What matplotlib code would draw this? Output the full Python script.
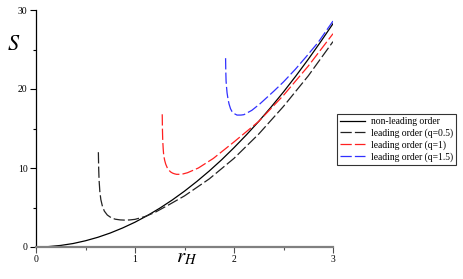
import matplotlib
matplotlib.use("Agg")
import matplotlib.pyplot as plt
from matplotlib.ticker import MultipleLocator

plt.rcParams['font.family'] = ['Liberation Serif', 'DejaVu Serif']
plt.rcParams['mathtext.fontset'] = 'stix'

# non-leading order
r_nl = [0, 0.125, 0.25, 0.375, 0.5, 0.625, 0.75, 0.875, 1.0, 1.125, 1.25, 1.375, 1.5,
        1.625, 1.75, 1.875, 2.0, 2.125, 2.25, 2.375, 2.5, 2.625, 2.75, 2.875, 3.0]
S_nl = [0, 0.05, 0.2, 0.44, 0.79, 1.23, 1.77, 2.41, 3.14, 3.98, 4.91, 5.94, 7.07,
        8.3, 9.62, 11.04, 12.57, 14.19, 15.9, 17.72, 19.63, 21.65, 23.76, 25.97, 28.27]

# leading order q=0.5
r_q05 = [0.63, 0.633, 0.637, 0.645, 0.655, 0.67, 0.69, 0.72, 0.76, 0.8, 0.85, 0.9, 0.95,
         1.0, 1.1, 1.2, 1.35, 1.5, 1.75, 2.0, 2.25, 2.5, 2.75, 3.0]
S_q05 = [12.0, 10.0, 8.5, 7.0, 6.0, 5.2, 4.55, 4.05, 3.7, 3.52, 3.43, 3.4, 3.43,
         3.5, 3.85, 4.37, 5.4, 6.47, 8.62, 11.22, 14.3, 17.8, 21.66, 26.0]

# leading order q=1
r_q1 = [1.275, 1.277, 1.28, 1.285, 1.29, 1.30, 1.31, 1.325, 1.34, 1.36, 1.38, 1.40, 1.42,
        1.47, 1.53, 1.64, 1.79, 2.0, 2.25, 2.5, 2.75, 3.0]
S_q1 = [16.8, 15.0, 13.5, 12.4, 11.6, 10.95, 10.5, 10.05, 9.75, 9.5, 9.35, 9.26, 9.2,
        9.2, 9.4, 10.0, 11.2, 13.3, 15.9, 19.2, 22.9, 27.0]

# leading order q=1.5
r_q15 = [1.915, 1.917, 1.92, 1.925, 1.93, 1.94, 1.95, 1.965, 1.98, 2.0, 2.03, 2.07, 2.1,
         2.18, 2.26, 2.4, 2.5, 2.62, 2.73, 2.85, 3.0]
S_q15 = [23.9, 22.3, 21.0, 20.2, 19.5, 18.7, 18.1, 17.5, 17.15, 16.9, 16.7, 16.7, 16.75,
         17.3, 18.1, 19.7, 20.9, 22.5, 24.1, 25.9, 28.6]

fig = plt.figure(figsize=(4.63, 2.79), dpi=100)
ax = fig.add_axes([36/463, 1-247/279, (333-36)/463, (247-10)/279])

dash = (0, (9, 2.5))
ax.plot(r_nl, S_nl, color='black', lw=0.9, label='non-leading order')
ax.plot(r_q05, S_q05, color='#222222', lw=0.9, ls=dash, label='leading order (q=0.5)')
ax.plot(r_q1, S_q1, color='#ff2020', lw=0.9, ls=dash, label='leading order (q=1)')
ax.plot(r_q15, S_q15, color='#3030ff', lw=0.9, ls=dash, label='leading order (q=1.5)')

ax.set_xlim(0, 3)
ax.set_ylim(0, 30)
ax.xaxis.set_major_locator(MultipleLocator(1))
ax.xaxis.set_minor_locator(MultipleLocator(0.5))
ax.yaxis.set_major_locator(MultipleLocator(10))
ax.yaxis.set_minor_locator(MultipleLocator(5))
for s in ['top', 'right']:
    ax.spines[s].set_visible(False)
ax.spines['left'].set_linewidth(0.9)
ax.spines['bottom'].set_color('#808080')
ax.spines['bottom'].set_linewidth(1.6)
ax.tick_params(axis='both', which='major', length=4, width=0.8, labelsize=7, pad=2)
ax.tick_params(axis='both', which='minor', length=2, width=0.8)
ax.tick_params(axis='x', which='both', color='#505050')

fig.text(14/463, 1-45/279, r'$S$', fontsize=16, ha='center', va='center')
fig.text(187/463, 1-258/279, r'$r_H$', fontsize=15, ha='center', va='center')

leg = fig.legend(loc='upper left', bbox_to_anchor=(337/463, 1-114/279), borderaxespad=0,
                 fontsize=6.9, handlelength=2.6, handletextpad=0.6, labelspacing=0.25,
                 borderpad=0.3, fancybox=False, frameon=True)
leg.get_frame().set_edgecolor('black')
leg.get_frame().set_linewidth(0.8)

fig.savefig('out.png', dpi=100)
